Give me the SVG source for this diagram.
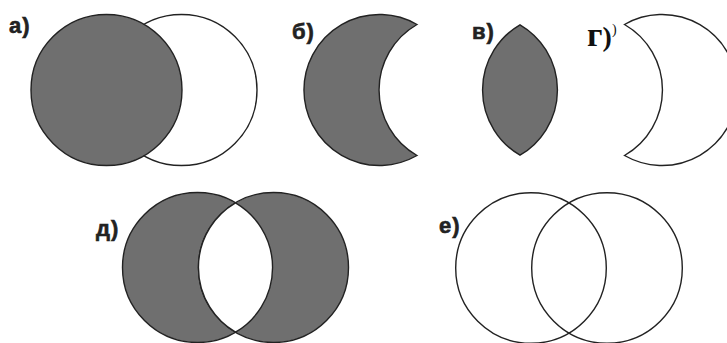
<svg xmlns="http://www.w3.org/2000/svg" width="727" height="343" viewBox="0 0 727 343">
<style>
.lbl{font-family:"Liberation Sans",Arial,sans-serif;font-weight:bold;font-size:22px;fill:#222;stroke:#222;stroke-width:0.6;letter-spacing:1px}
.ser{font-family:"Liberation Serif","Times New Roman",serif;font-weight:bold;font-size:28px;fill:#111}
.g{fill:#6f6f6f;stroke:#222;stroke-width:1.4}
.w{fill:#fff;stroke:#222;stroke-width:1.4}
.n{fill:none;stroke:#222;stroke-width:1.4}
</style>
<rect width="727" height="343" fill="#fff"/>
<g id="fig-a">
<circle class="w" cx="181.5" cy="90" r="75.5"/>
<circle class="g" cx="106.5" cy="90" r="75.5" stroke-width="1.8"/>
<text class="lbl" x="9" y="33">а)</text>
</g>
<g id="fig-b">
<path class="g" d="M417,24.5 A75.5,75.5 0 1 0 417,155.5 A75.5,75.5 0 0 1 417,24.5 Z"/>
<text class="lbl" x="292" y="39">б)</text>
</g>
<g id="fig-v">
<path class="g" d="M520,24.8 A75.5,75.5 0 0 1 520,155.2 A75.5,75.5 0 0 1 520,24.8 Z"/>
<text class="lbl" x="472" y="39">в)</text>
</g>
<g id="fig-g">
<path class="w" d="M624.5,24.5 A75.5,75.5 0 1 1 624.5,155.5 A75.5,75.5 0 0 0 624.5,24.5 Z"/>
<text class="ser" x="587" y="46"><tspan font-size="34">г</tspan>)</text>
<text x="612" y="34" style="font-family:'Liberation Serif',serif;font-size:14px;fill:#111">)</text>
</g>
<g id="fig-d">
<circle class="g" cx="197.5" cy="267.5" r="75"/>
<circle class="g" cx="273.5" cy="267.5" r="75"/>
<path class="w" d="M235.5,202.8 A75,75 0 0 1 235.5,332.2 A75,75 0 0 1 235.5,202.8 Z"/>
<text class="lbl" x="96" y="236">д)</text>
</g>
<g id="fig-e">
<circle class="n" cx="531" cy="268" r="75.3"/>
<circle class="n" cx="607" cy="268" r="75.3"/>
<text class="lbl" x="439" y="233">е)</text>
</g>
</svg>
